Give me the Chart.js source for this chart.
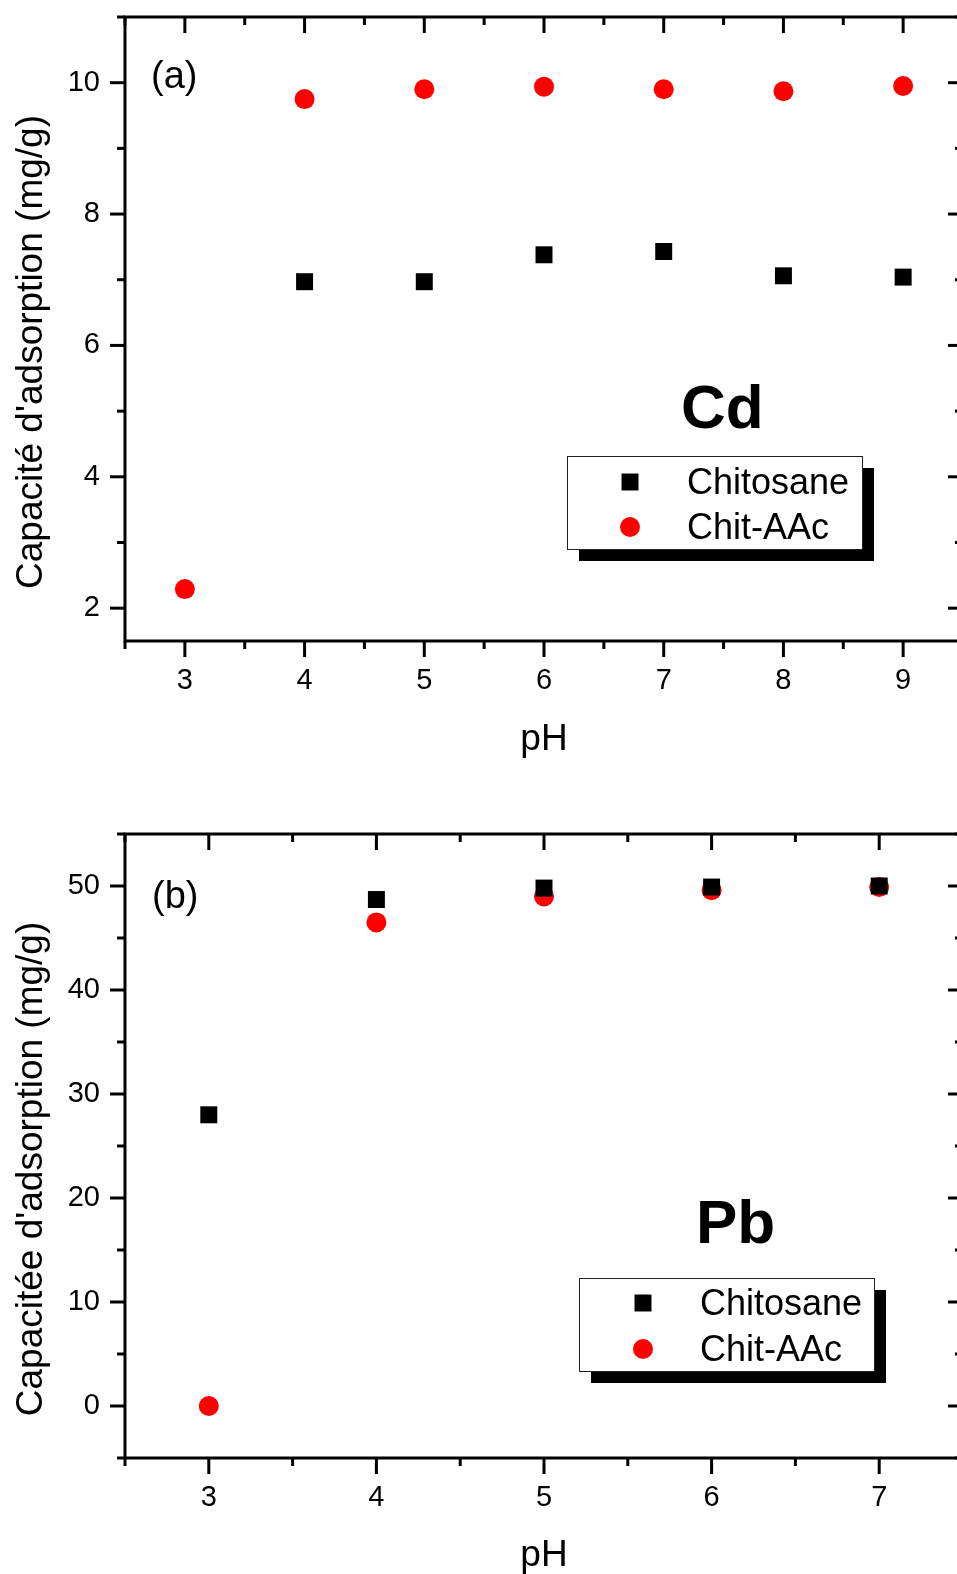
<!DOCTYPE html>
<html>
<head>
<meta charset="utf-8">
<script src="https://cdn.jsdelivr.net/npm/chart.js@4.4.0/dist/chart.umd.min.js"></script>
<style>
  html, body { margin: 0; padding: 0; background: #fff; overflow: hidden; width: 957px; height: 1574px; }
  .panel { position: absolute; left: 0; width: 975px; height: 780px; }
  #cdPanel { top: 0; }
  #pbPanel { top: 817px; }
</style>
</head>
<body>
<div class="panel" id="cdPanel"><canvas id="cdChart" width="975" height="780"></canvas></div>
<div class="panel" id="pbPanel"><canvas id="pbChart" width="975" height="780"></canvas></div>
<script>
// Adsorption capacity (mg/g) versus pH
const cdPH = [3, 4, 5, 6, 7, 8, 9];
const cdChitosane = [null, 6.97, 6.97, 7.38, 7.43, 7.06, 7.04];
const cdChitAAc = [2.29, 9.75, 9.90, 9.94, 9.90, 9.87, 9.95];

const pbPH = [3, 4, 5, 6, 7];
const pbChitosane = [28.0, 48.7, 49.8, 49.9, 50.0];
const pbChitAAc = [0, 46.5, 49.0, 49.6, 49.9];

// axis ticks
const cdXMinor = [2.5, 3.5, 4.5, 5.5, 6.5, 7.5, 8.5, 9.5];
const cdYMajor = [2, 4, 6, 8, 10];
const cdYMinor = [3, 5, 7, 9, 11];
const pbXMinor = [2.5, 3.5, 4.5, 5.5, 6.5, 7.5];
const pbYMajor = [0, 10, 20, 30, 40, 50];
const pbYMinor = [-5, 5, 15, 25, 35, 45, 55];

const FONT = "'Liberation Sans', Arial, Helvetica, sans-serif";

function toPoints(xs, ys) {
    return xs.map((x, i) => ({ x: x, y: ys[i] })).filter(p => p.y !== null);
}

// Origin-style box: outward ticks on left/bottom, inward on top/right
const frameTicks = {
    id: 'frameTicks',
    beforeDatasetsDraw(chart, args, opts) {
        const { ctx, chartArea: a, scales: { x, y } } = chart;
        ctx.save();
        ctx.strokeStyle = '#000';
        ctx.lineWidth = 3;
        ctx.lineCap = 'butt';
        const seg = (x1, y1, x2, y2) => {
            ctx.beginPath();
            ctx.moveTo(x1, y1);
            ctx.lineTo(x2, y2);
            ctx.stroke();
        };
        const xTicks = (vals, len) => vals.forEach(v => {
            const p = x.getPixelForValue(v);
            seg(p, a.bottom, p, a.bottom + len);
            seg(p, a.top, p, a.top + len);
        });
        const yTicks = (vals, len) => vals.forEach(v => {
            const p = y.getPixelForValue(v);
            seg(a.left - len, p, a.left, p);
            seg(a.right - len, p, a.right, p);
        });
        xTicks(opts.xMajor, 16);
        xTicks(opts.xMinor, 8);
        yTicks(opts.yMajor, 15);
        yTicks(opts.yMinor, 8);
        ctx.strokeRect(a.left, a.top, a.right - a.left, a.bottom - a.top);
        ctx.restore();
    },
    afterDraw(chart, args, opts) {
        const { ctx, chartArea: a } = chart;
        ctx.save();
        ctx.fillStyle = '#000';

        // axis titles
        ctx.font = '37px ' + FONT;
        ctx.textAlign = 'center';
        ctx.textBaseline = 'alphabetic';
        ctx.fillText('pH', (a.left + a.right) / 2, opts.xTitleY);
        ctx.save();
        ctx.translate(opts.yTitleX, (a.top + a.bottom) / 2 + 23);
        ctx.rotate(-Math.PI / 2);
        ctx.fillText(opts.yTitle, 0, 0);
        ctx.restore();

        // panel tag and metal symbol
        ctx.textAlign = 'left';
        ctx.font = '38px ' + FONT;
        ctx.fillText(opts.tag, opts.tagX, opts.tagY);
        ctx.font = 'bold 62px ' + FONT;
        ctx.fillText(opts.metal, opts.metalX, opts.metalY);

        // legend with drop shadow
        const L = opts.legend;
        ctx.fillStyle = '#000';
        ctx.fillRect(L.x + 12, L.y + 12, L.w, L.h);
        ctx.fillStyle = '#fff';
        ctx.fillRect(L.x, L.y, L.w, L.h);
        ctx.strokeStyle = '#222';
        ctx.lineWidth = 1;
        ctx.strokeRect(L.x + 0.5, L.y + 0.5, L.w, L.h);
        ctx.font = '36px ' + FONT;
        chart.data.datasets.forEach((ds, i) => {
            const cy = L.rowY[i];
            ctx.fillStyle = ds.pointBackgroundColor;
            Chart.helpers.drawPoint(ctx, {
                pointStyle: ds.pointStyle, radius: ds.pointRadius, rotation: 0, borderWidth: 0
            }, L.markerX, cy);
            ctx.fillStyle = '#000';
            ctx.fillText(ds.label, L.textX, cy + 12);
        });
        ctx.restore();
    }
};

function makeChart(id, ph, chitosane, chitAAc, xMax, yMin, yMax, yMajor, extra) {
    return new Chart(document.getElementById(id), {
        type: 'scatter',
        data: {
            datasets: [{
                label: 'Chitosane',
                data: toPoints(ph, chitosane),
                pointStyle: 'rect',
                pointRadius: 12,
                pointBackgroundColor: '#000000',
                pointBorderWidth: 0
            }, {
                label: 'Chit-AAc',
                data: toPoints(ph, chitAAc),
                pointStyle: 'circle',
                pointRadius: 10,
                pointBackgroundColor: '#ff0000',
                pointBorderWidth: 0
            }]
        },
        options: {
            responsive: false,
            animation: false,
            events: [],
            layout: { padding: { top: 17, right: 10, left: 0, bottom: 0 } },
            scales: {
                x: {
                    type: 'linear',
                    min: 2.5,
                    max: xMax,
                    afterFit(s) {
                        s.height = 139;
                        s.paddingLeft = 0;
                        s.paddingRight = 0;
                    },
                    afterBuildTicks(s) { s.ticks = ph.map(v => ({ value: v })); },
                    grid: { display: false, drawTicks: false },
                    border: { display: false },
                    ticks: { color: '#000', font: { family: FONT, size: 29 }, padding: 23, maxRotation: 0, autoSkip: false }
                },
                y: {
                    type: 'linear',
                    min: yMin,
                    max: yMax,
                    afterFit(s) {
                        s.width = 125;
                        s.paddingTop = 0;
                        s.paddingBottom = 0;
                    },
                    afterBuildTicks(s) { s.ticks = yMajor.map(v => ({ value: v })); },
                    grid: { display: false, drawTicks: false },
                    border: { display: false },
                    ticks: { color: '#000', font: { family: FONT, size: 29 }, padding: 25, autoSkip: false }
                }
            },
            plugins: {
                legend: { display: false },
                tooltip: { enabled: false },
                frameTicks: extra
            }
        },
        plugins: [frameTicks]
    });
}

makeChart('cdChart', cdPH, cdChitosane, cdChitAAc, 9.5, 1.5, 11, cdYMajor, {
    xMajor: cdPH, xMinor: cdXMinor, yMajor: cdYMajor, yMinor: cdYMinor,
    xTitleY: 750, yTitleX: 42, yTitle: "Capacité d'adsorption (mg/g)",
    tag: '(a)', tagX: 151, tagY: 88,
    metal: 'Cd', metalX: 681, metalY: 428,
    legend: { x: 567, y: 456, w: 295, h: 93, markerX: 630, rowY: [482, 527], textX: 687 }
});

makeChart('pbChart', pbPH, pbChitosane, pbChitAAc, 7.5, -5, 55, pbYMajor, {
    xMajor: pbPH, xMinor: pbXMinor, yMajor: pbYMajor, yMinor: pbYMinor,
    xTitleY: 749, yTitleX: 42, yTitle: "Capacitée d'adsorption (mg/g)",
    tag: '(b)', tagX: 152, tagY: 91,
    metal: 'Pb', metalX: 696, metalY: 426,
    legend: { x: 579, y: 461, w: 295, h: 93, markerX: 643, rowY: [486, 532], textX: 700 }
});
</script>
</body>
</html>
